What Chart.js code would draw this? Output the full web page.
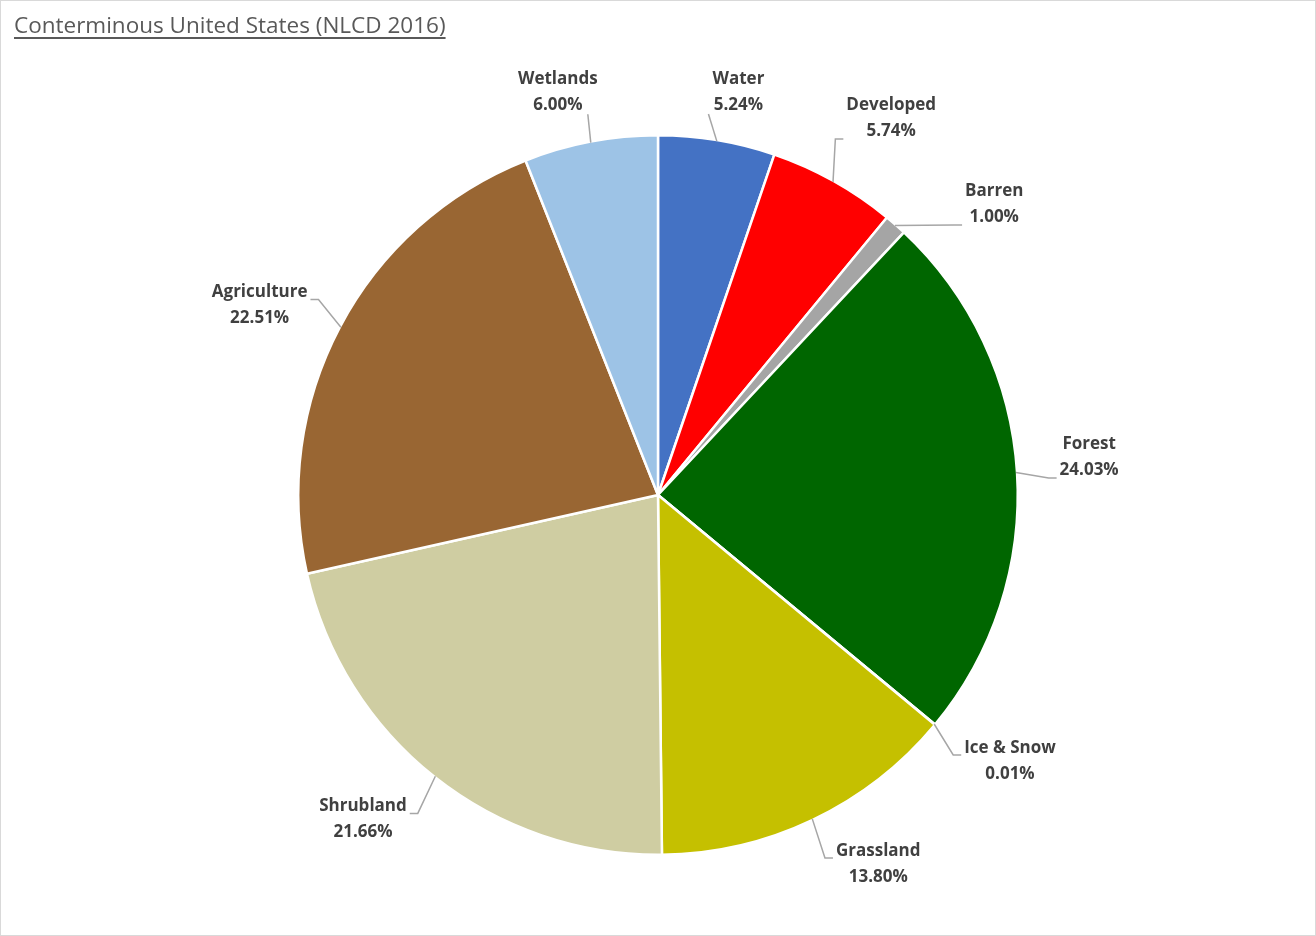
<!DOCTYPE html>
<html>
<head>
<meta charset="utf-8">
<script src="https://cdn.jsdelivr.net/npm/chart.js@4/dist/chart.umd.min.js"></script>
<style>
  html, body { margin: 0; padding: 0; background: #fff; }
  #wrap {
    position: relative;
    width: 1316px;
    height: 936px;
    box-sizing: border-box;
    border: 1px solid #d9d9d9;
  }
  #title {
    position: absolute;
    left: 13px;
    top: 8px;
    font-family: "Open Sans", sans-serif;
    font-size: 22.5px;
    color: #595959;
    text-decoration: underline;
    text-decoration-thickness: 1.5px;
    text-underline-offset: 4px;
  }
  canvas { position: absolute; left: 0; top: 0; }
</style>
</head>
<body>
<div id="wrap">
  <canvas id="landChart" width="1314" height="934"></canvas>
  <div id="title">Conterminous United States (NLCD 2016)</div>
</div>
<script>
const categories = ["Water", "Developed", "Barren", "Forest", "Ice & Snow", "Grassland", "Shrubland", "Agriculture", "Wetlands"];
const shares = [5.24, 5.74, 1.00, 24.03, 0.01, 13.80, 21.66, 22.51, 6.00];
const sliceColors = ["#4472c4", "#ff0000", "#a5a5a5", "#006600", "#ffffff", "#c5c000", "#cfcda2", "#996633", "#9dc3e6"];

// label placement tweaks (degrees off the slice middle, distance from centre)
const labelNudge = [1.8, 2.4, 7.6, -1.7, -2.8, -5.5, 4.1, -2.2, -3.1];
const labelDist = [413, 445, 446, 433, 440, 428, 437, 442, 417];

const outsideLabels = {
  id: "outsideLabels",
  afterDatasetsDraw(chart) {
    const ctx = chart.ctx;
    const arcs = chart.getDatasetMeta(0).data;
    ctx.save();
    ctx.font = "bold 17px 'Open Sans', sans-serif";
    ctx.fillStyle = "#404040";
    ctx.textAlign = "center";
    ctx.textBaseline = "middle";
    ctx.strokeStyle = "#a6a6a6";
    ctx.lineWidth = 1.5;

    arcs.forEach((arc, i) => {
      const { x, y, startAngle, endAngle, outerRadius } = arc.getProps(["x", "y", "startAngle", "endAngle", "outerRadius"], true);
      const mid = (startAngle + endAngle) / 2;
      const ang = mid + (labelNudge[i] * Math.PI) / 180;
      const lx = x + labelDist[i] * Math.cos(ang);
      const ly = y + labelDist[i] * Math.sin(ang) + 2;
      const line1 = categories[i];
      const line2 = shares[i].toFixed(2) + "%";
      const w = Math.max(ctx.measureText(line1).width, ctx.measureText(line2).width);

      const ex = x + (outerRadius - 1) * Math.cos(mid);
      const ey = y + (outerRadius - 1) * Math.sin(mid);

      ctx.beginPath();
      ctx.moveTo(ex, ey);
      const dx = lx - x;
      const dy = ly - y;
      if (Math.abs(dx) < Math.abs(dy) * 0.3) {
        // label above the pie: leader to the bottom of the text
        ctx.lineTo(lx - 30 * Math.sign(dx), ly + 22);
      } else {
        const side = dx > 0 ? -1 : 1;
        const ay = dx > 0 && dy < 0 ? ly + 21 : ly - 6;
        const ax = lx + side * (w / 2 + 3);
        ctx.lineTo(ax + side * 8, ay);
        ctx.lineTo(ax, ay);
      }
      ctx.stroke();

      ctx.fillText(line1, lx, ly - 13);
      ctx.fillText(line2, lx, ly + 13);
    });
    ctx.restore();
  }
};

new Chart(document.getElementById("landChart"), {
  type: "pie",
  data: {
    labels: categories,
    datasets: [
      {
        data: shares,
        backgroundColor: sliceColors,
        borderColor: "#ffffff",
        borderWidth: 2.5
      }
    ]
  },
  options: {
    responsive: false,
    animation: false,
    layout: {
      padding: { top: 133, bottom: 79, left: 296, right: 296 }
    },
    plugins: {
      legend: { display: false },
      tooltip: { enabled: false }
    }
  },
  plugins: [outsideLabels]
});
</script>
</body>
</html>
